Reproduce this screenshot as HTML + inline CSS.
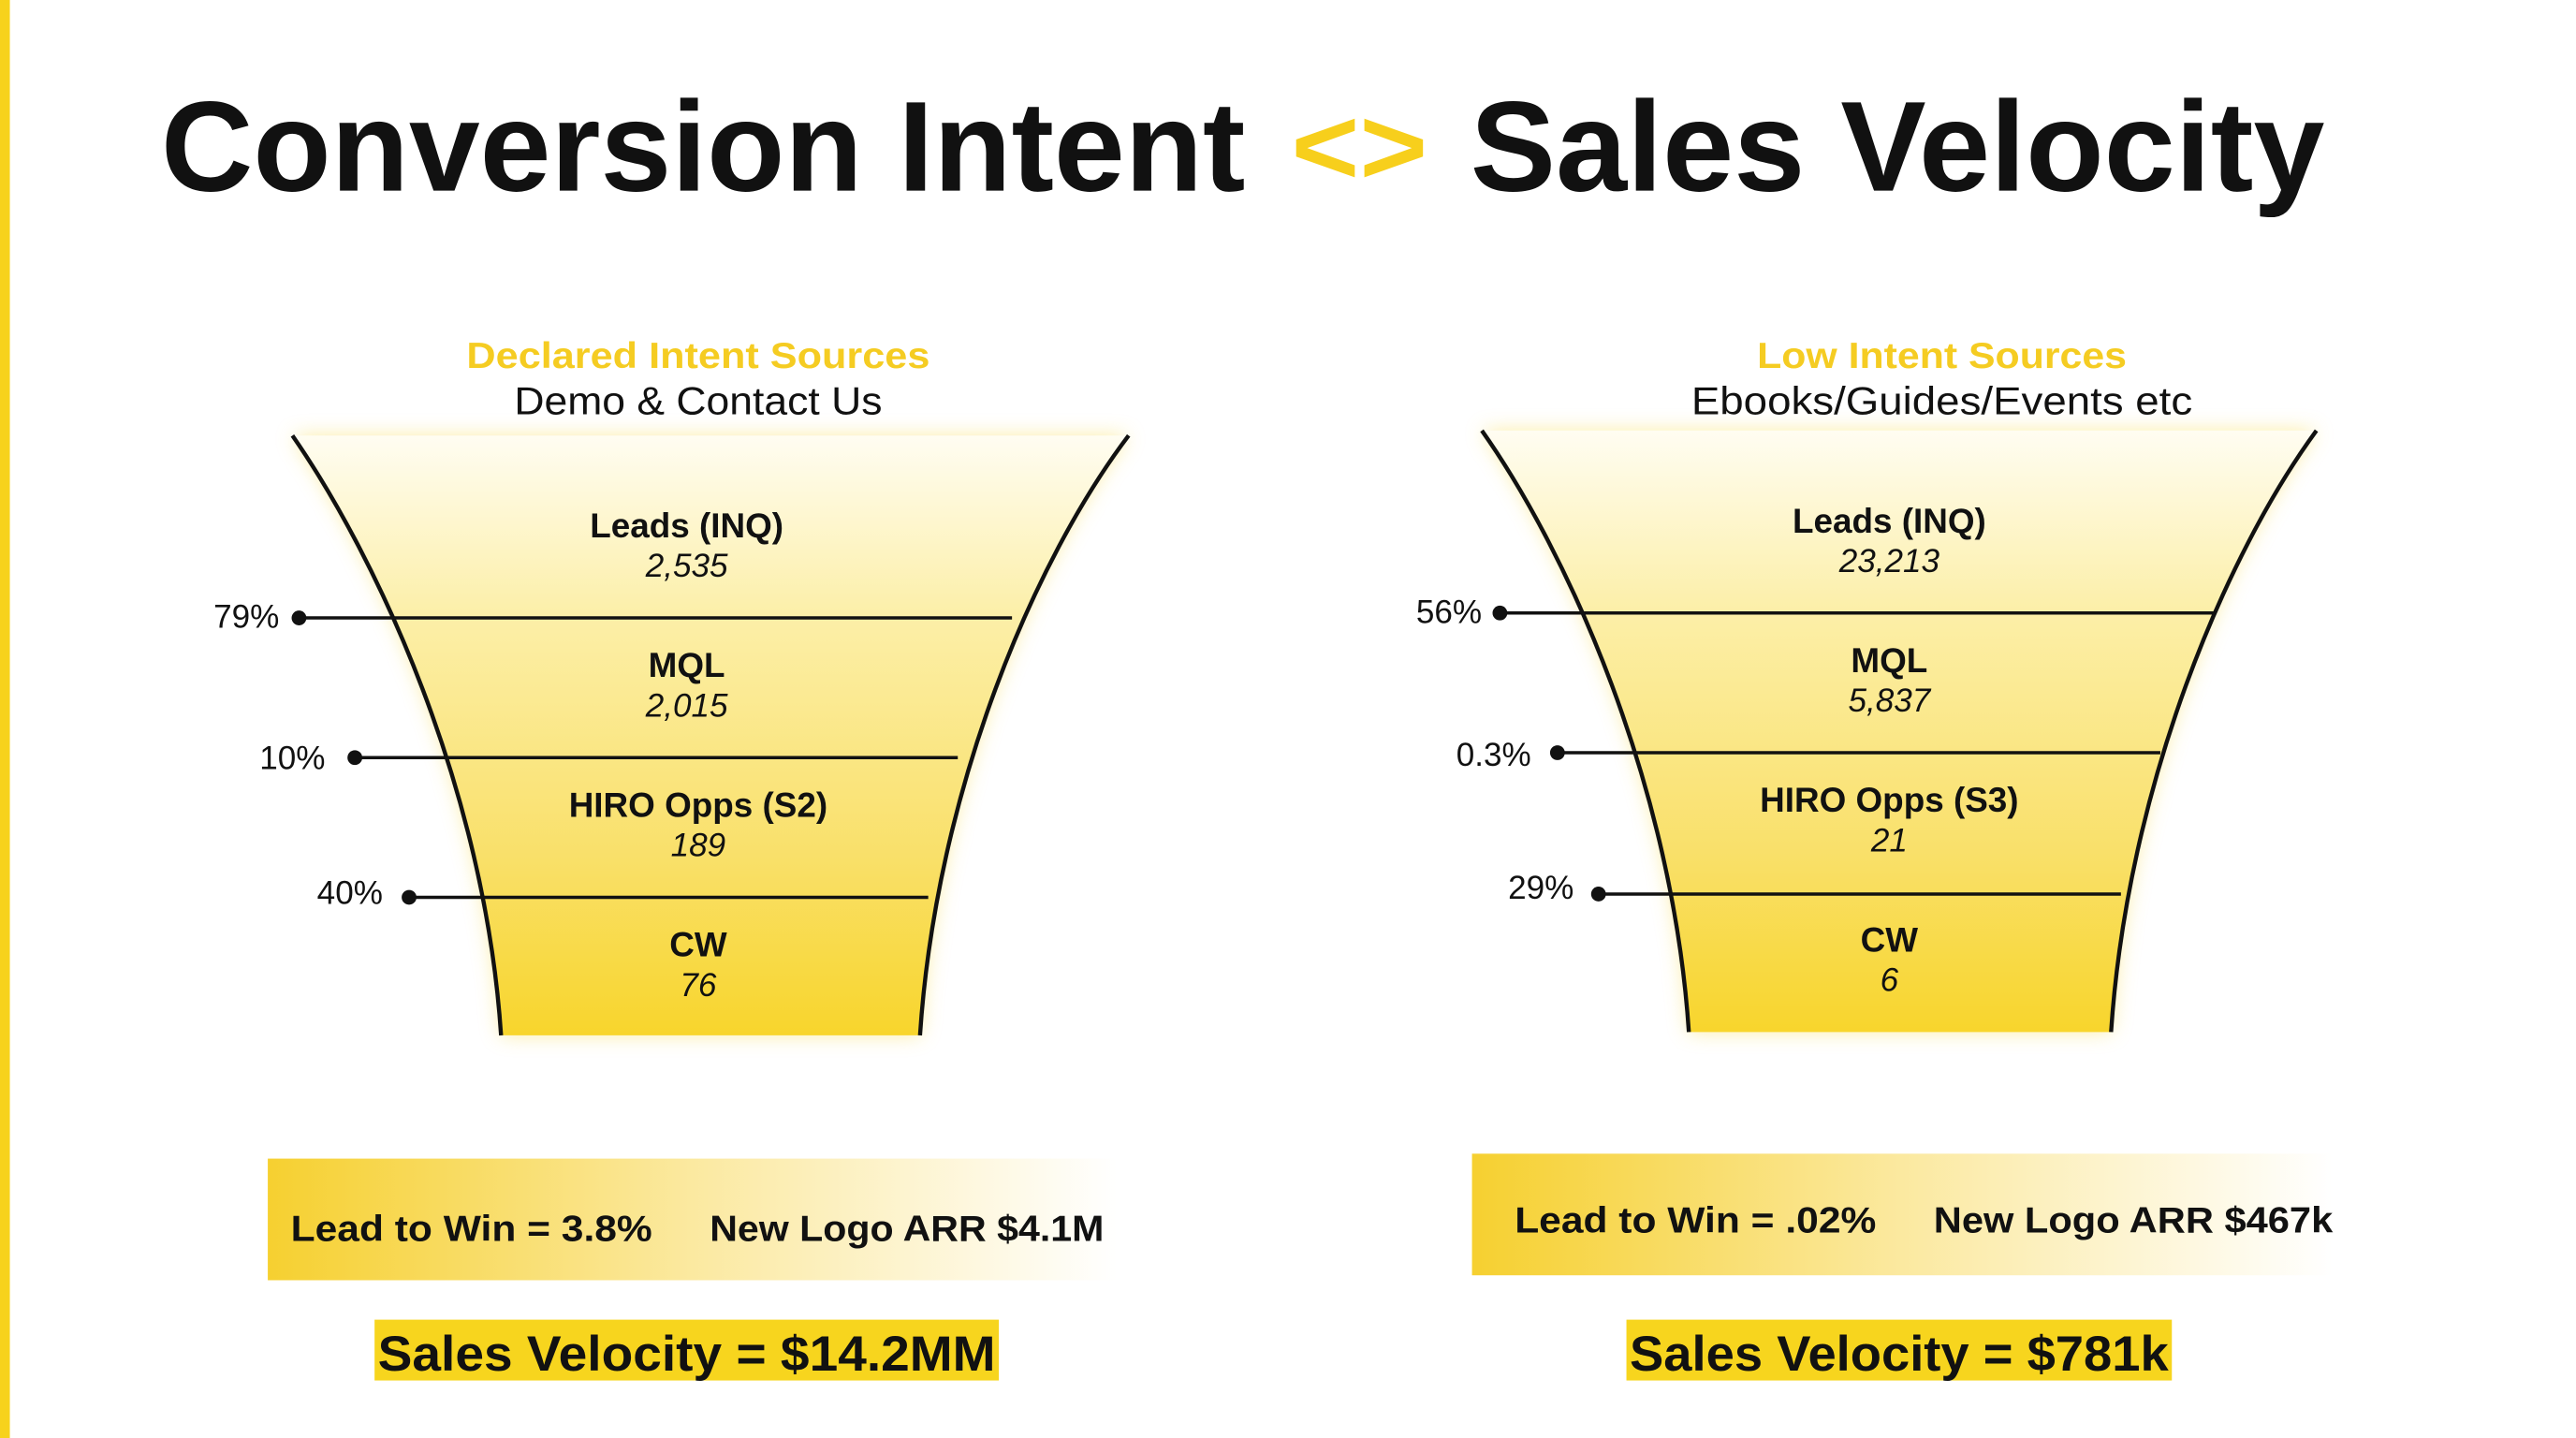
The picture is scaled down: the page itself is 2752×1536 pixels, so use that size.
<!DOCTYPE html>
<html><head><meta charset="utf-8"><style>
html,body{margin:0;padding:0;background:#fff}
svg{display:block}
text{font-family:"Liberation Sans",sans-serif}
</style></head><body>
<svg width="2752" height="1536" viewBox="0 0 1568 875" preserveAspectRatio="none">
<defs>
<linearGradient id="fg" x1="0" y1="0" x2="0" y2="1">
<stop offset="0" stop-color="#fffdf2"/><stop offset="0.3" stop-color="#fcefa8"/><stop offset="0.7" stop-color="#f9e06a"/><stop offset="1" stop-color="#f8d52c"/></linearGradient>
<linearGradient id="bg" x1="0" y1="0" x2="1" y2="0">
<stop offset="0" stop-color="#f6d030"/><stop offset="0.5" stop-color="#fbe9a0"/><stop offset="1" stop-color="#ffffff"/></linearGradient>
<filter id="bl"><feGaussianBlur stdDeviation="6"/></filter>
</defs>
<rect width="1568" height="875" fill="#fff"/>
<rect x="0" y="0" width="6" height="875" fill="#f7d21c"/>
<text x="98" y="116" font-size="78" font-weight="bold" fill="#111" textLength="660" lengthAdjust="spacingAndGlyphs">Conversion Intent</text>
<text x="786" y="112" font-size="66" font-weight="bold" fill="#f7cf1c" textLength="83" lengthAdjust="spacingAndGlyphs">&lt;&gt;</text>
<text x="895" y="116" font-size="78" font-weight="bold" fill="#111" textLength="520" lengthAdjust="spacingAndGlyphs">Sales Velocity</text>

<!-- left funnel -->
<text x="425" y="224" font-size="22" font-weight="bold" fill="#f5cc22" text-anchor="middle" textLength="282" lengthAdjust="spacingAndGlyphs">Declared Intent Sources</text>
<text x="425" y="252" font-size="24" fill="#111" text-anchor="middle" textLength="224" lengthAdjust="spacingAndGlyphs">Demo &amp; Contact Us</text>
<path d="M178,265 C230,340 295,480 305,630 L560,630 C570,480 630,340 687,265 Z" fill="#f8dc50" filter="url(#bl)" opacity="0.5"/>
<path d="M178,265 C230,340 295,480 305,630 L560,630 C570,480 630,340 687,265 Z" fill="url(#fg)"/>
<path d="M178,265 C230,340 295,480 305,630 M687,265 C630,340 570,480 560,630" fill="none" stroke="#111" stroke-width="2.5"/>
<g stroke="#111" stroke-width="2"><line x1="182" y1="376" x2="616" y2="376"/><line x1="216" y1="461" x2="583" y2="461"/><line x1="249" y1="546" x2="565" y2="546"/></g>
<g fill="#111"><circle cx="182" cy="376" r="4.5"/><circle cx="216" cy="461" r="4.5"/><circle cx="249" cy="546" r="4.5"/></g>
<g font-size="20" fill="#111" text-anchor="end"><text x="170" y="382">79%</text><text x="198" y="468">10%</text><text x="233" y="550">40%</text></g>
<g text-anchor="middle" fill="#111">
<text x="418" y="327" font-size="21" font-weight="bold">Leads (INQ)</text><text x="418" y="351" font-size="20" font-style="italic">2,535</text>
<text x="418" y="412" font-size="21" font-weight="bold">MQL</text><text x="418" y="436" font-size="20" font-style="italic">2,015</text>
<text x="425" y="497" font-size="21" font-weight="bold">HIRO Opps (S2)</text><text x="425" y="521" font-size="20" font-style="italic">189</text>
<text x="425" y="582" font-size="21" font-weight="bold">CW</text><text x="425" y="606" font-size="20" font-style="italic">76</text>
</g>

<!-- right funnel -->
<text x="1182" y="224" font-size="22" font-weight="bold" fill="#f5cc22" text-anchor="middle" textLength="225" lengthAdjust="spacingAndGlyphs">Low Intent Sources</text>
<text x="1182" y="252" font-size="24" fill="#111" text-anchor="middle" textLength="305" lengthAdjust="spacingAndGlyphs">Ebooks/Guides/Events etc</text>
<path d="M902,262 C955,337 1018,478 1028,628 L1285,628 C1295,478 1355,337 1410,262 Z" fill="#f8dc50" filter="url(#bl)" opacity="0.5"/>
<path d="M902,262 C955,337 1018,478 1028,628 L1285,628 C1295,478 1355,337 1410,262 Z" fill="url(#fg)"/>
<path d="M902,262 C955,337 1018,478 1028,628 M1410,262 C1355,337 1295,478 1285,628" fill="none" stroke="#111" stroke-width="2.5"/>
<g stroke="#111" stroke-width="2"><line x1="913" y1="373" x2="1348" y2="373"/><line x1="948" y1="458" x2="1315" y2="458"/><line x1="973" y1="544" x2="1291" y2="544"/></g>
<g fill="#111"><circle cx="913" cy="373" r="4.5"/><circle cx="948" cy="458" r="4.5"/><circle cx="973" cy="544" r="4.5"/></g>
<g font-size="20" fill="#111" text-anchor="end"><text x="902" y="379">56%</text><text x="932" y="466">0.3%</text><text x="958" y="547">29%</text></g>
<g text-anchor="middle" fill="#111">
<text x="1150" y="324" font-size="21" font-weight="bold">Leads (INQ)</text><text x="1150" y="348" font-size="20" font-style="italic">23,213</text>
<text x="1150" y="409" font-size="21" font-weight="bold">MQL</text><text x="1150" y="433" font-size="20" font-style="italic">5,837</text>
<text x="1150" y="494" font-size="21" font-weight="bold">HIRO Opps (S3)</text><text x="1150" y="518" font-size="20" font-style="italic">21</text>
<text x="1150" y="579" font-size="21" font-weight="bold">CW</text><text x="1150" y="603" font-size="20" font-style="italic">6</text>
</g>

<!-- summary boxes -->
<rect x="163" y="705" width="517" height="74" fill="url(#bg)"/>
<text x="177" y="755" font-size="22" font-weight="bold" fill="#111" textLength="220" lengthAdjust="spacingAndGlyphs">Lead to Win = 3.8%</text>
<text x="432" y="755" font-size="22" font-weight="bold" fill="#111" textLength="240" lengthAdjust="spacingAndGlyphs">New Logo ARR $4.1M</text>
<rect x="228" y="803" width="380" height="37" fill="#f7d51e"/>
<text x="230" y="834" font-size="30" font-weight="bold" fill="#111" textLength="376" lengthAdjust="spacingAndGlyphs">Sales Velocity = $14.2MM</text>

<rect x="896" y="702" width="524" height="74" fill="url(#bg)"/>
<text x="922" y="750" font-size="22" font-weight="bold" fill="#111" textLength="220" lengthAdjust="spacingAndGlyphs">Lead to Win = .02%</text>
<text x="1177" y="750" font-size="22" font-weight="bold" fill="#111" textLength="243" lengthAdjust="spacingAndGlyphs">New Logo ARR $467k</text>
<rect x="990" y="803" width="332" height="37" fill="#f7d51e"/>
<text x="992" y="834" font-size="30" font-weight="bold" fill="#111" textLength="328" lengthAdjust="spacingAndGlyphs">Sales Velocity = $781k</text>
</svg>
</body></html>
